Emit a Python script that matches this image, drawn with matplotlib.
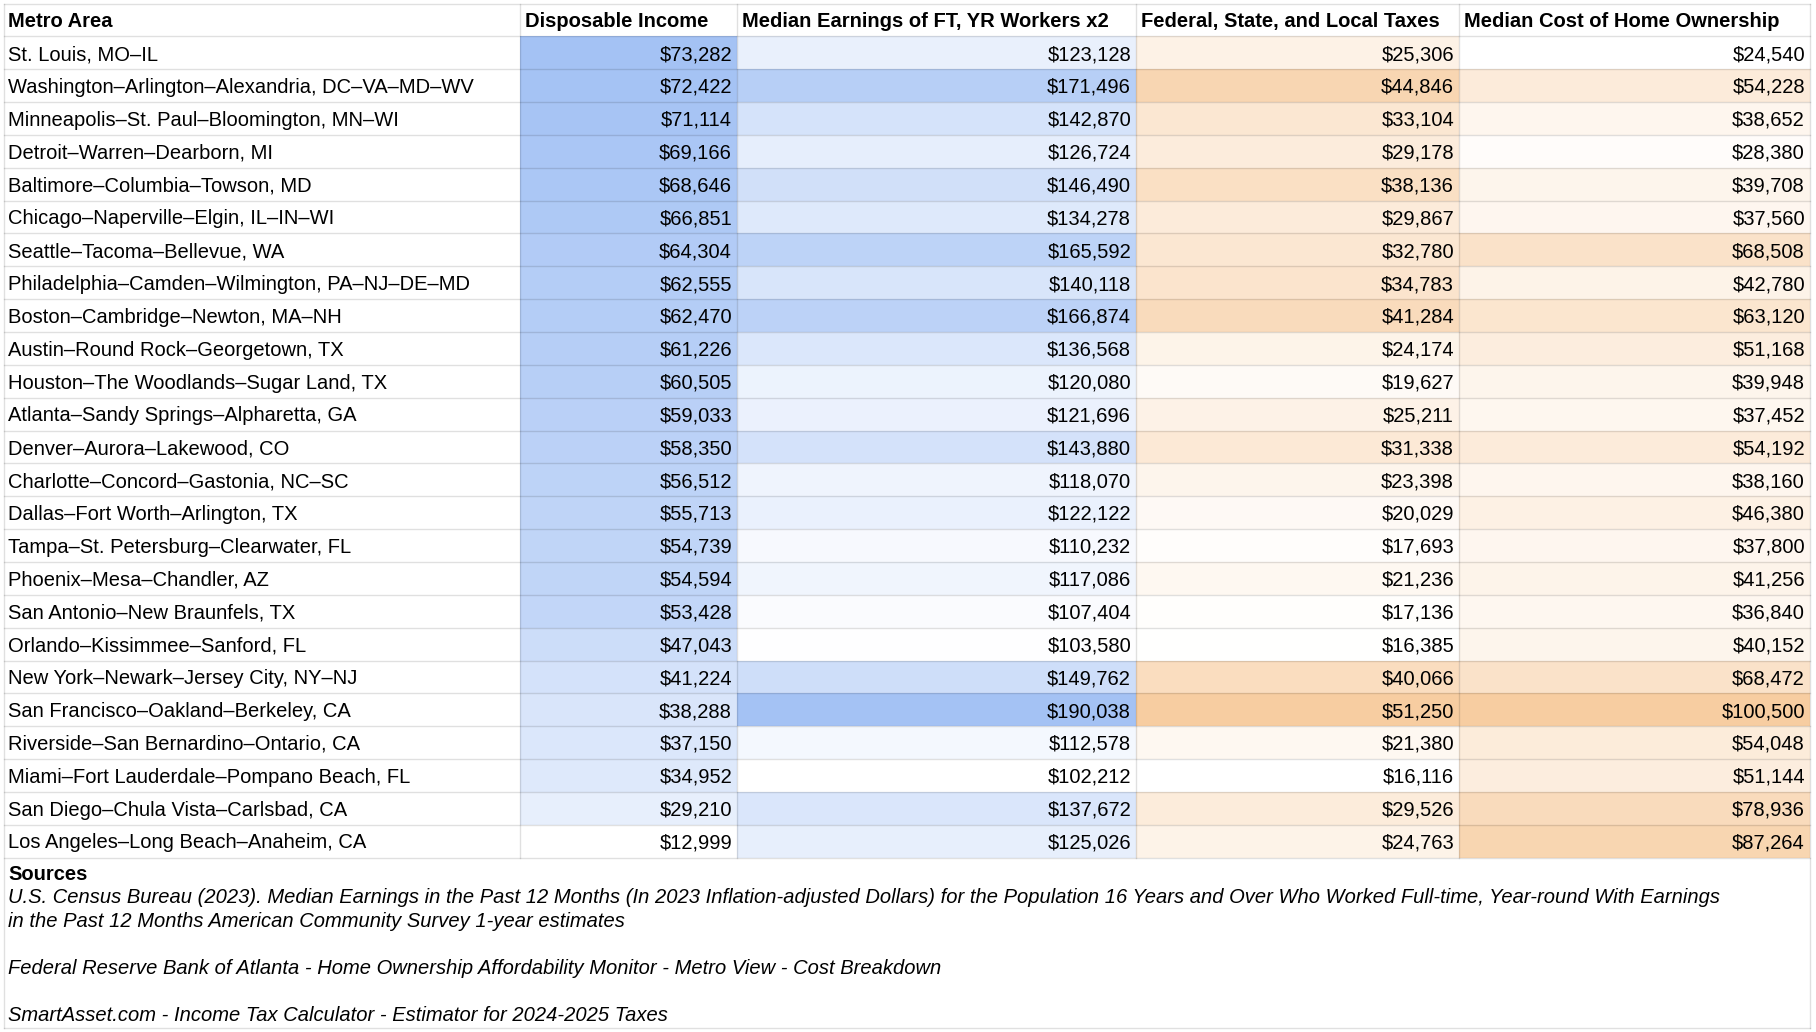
import numpy as np
import matplotlib
matplotlib.use("Agg")
import matplotlib.pyplot as plt
from matplotlib.patches import Rectangle
from matplotlib.colors import to_rgb

plt.rcParams["font.family"] = ["Liberation Sans", "DejaVu Sans"]

# Data
metros = [
    "St. Louis, MO\u2013IL",
    "Washington\u2013Arlington\u2013Alexandria, DC\u2013VA\u2013MD\u2013WV",
    "Minneapolis\u2013St. Paul\u2013Bloomington, MN\u2013WI",
    "Detroit\u2013Warren\u2013Dearborn, MI",
    "Baltimore\u2013Columbia\u2013Towson, MD",
    "Chicago\u2013Naperville\u2013Elgin, IL\u2013IN\u2013WI",
    "Seattle\u2013Tacoma\u2013Bellevue, WA",
    "Philadelphia\u2013Camden\u2013Wilmington, PA\u2013NJ\u2013DE\u2013MD",
    "Boston\u2013Cambridge\u2013Newton, MA\u2013NH",
    "Austin\u2013Round Rock\u2013Georgetown, TX",
    "Houston\u2013The Woodlands\u2013Sugar Land, TX",
    "Atlanta\u2013Sandy Springs\u2013Alpharetta, GA",
    "Denver\u2013Aurora\u2013Lakewood, CO",
    "Charlotte\u2013Concord\u2013Gastonia, NC\u2013SC",
    "Dallas\u2013Fort Worth\u2013Arlington, TX",
    "Tampa\u2013St. Petersburg\u2013Clearwater, FL",
    "Phoenix\u2013Mesa\u2013Chandler, AZ",
    "San Antonio\u2013New Braunfels, TX",
    "Orlando\u2013Kissimmee\u2013Sanford, FL",
    "New York\u2013Newark\u2013Jersey City, NY\u2013NJ",
    "San Francisco\u2013Oakland\u2013Berkeley, CA",
    "Riverside\u2013San Bernardino\u2013Ontario, CA",
    "Miami\u2013Fort Lauderdale\u2013Pompano Beach, FL",
    "San Diego\u2013Chula Vista\u2013Carlsbad, CA",
    "Los Angeles\u2013Long Beach\u2013Anaheim, CA",
]
disposable = [73282, 72422, 71114, 69166, 68646, 66851, 64304, 62555, 62470, 61226,
              60505, 59033, 58350, 56512, 55713, 54739, 54594, 53428, 47043, 41224,
              38288, 37150, 34952, 29210, 12999]
earnings = [123128, 171496, 142870, 126724, 146490, 134278, 165592, 140118, 166874, 136568,
            120080, 121696, 143880, 118070, 122122, 110232, 117086, 107404, 103580, 149762,
            190038, 112578, 102212, 137672, 125026]
taxes = [25306, 44846, 33104, 29178, 38136, 29867, 32780, 34783, 41284, 24174,
         19627, 25211, 31338, 23398, 20029, 17693, 21236, 17136, 16385, 40066,
         51250, 21380, 16116, 29526, 24763]
home_cost = [24540, 54228, 38652, 28380, 39708, 37560, 68508, 42780, 63120, 51168,
             39948, 37452, 54192, 38160, 46380, 37800, 41256, 36840, 40152, 68472,
             100500, 54048, 51144, 78936, 87264]

headers = ["Metro Area", "Disposable Income", "Median Earnings of FT, YR Workers x2",
           "Federal, State, and Local Taxes", "Median Cost of Home Ownership"]
sources = [
    "U.S. Census Bureau (2023). Median Earnings in the Past 12 Months (In 2023 Inflation-adjusted Dollars) "
    "for the Population 16 Years and Over Who Worked Full-time, Year-round With Earnings",
    "in the Past 12 Months American Community Survey 1-year estimates",
    "",
    "Federal Reserve Bank of Atlanta - Home Ownership Affordability Monitor - Metro View - Cost Breakdown",
    "",
    "SmartAsset.com - Income Tax Calculator - Estimator for 2024-2025 Taxes",
]

BLUE = "#a4c2f4"
ORANGE = "#f7cda1"
value_cols = [(disposable, BLUE), (earnings, BLUE), (taxes, ORANGE), (home_cost, ORANGE)]

# Layout (pixels)
W, H = 1816, 1032
col_edges = [3.5, 520, 737, 1136, 1459, 1810]
top = 3.5
row_h = 32.85
n_rows = len(metros)
table_bottom = top + row_h * (n_rows + 1)
fs = 14.5
grid_kw = dict(color="black", alpha=0.12, lw=1.0, zorder=3)


def scale_color(v, vals, hi):
    # white at the column minimum, full colour at the maximum
    lo_v, hi_v = min(vals), max(vals)
    t = (v - lo_v) / (hi_v - lo_v)
    c0 = np.array([1.0, 1.0, 1.0])
    c1 = np.array(to_rgb(hi))
    return tuple(c0 + (c1 - c0) * t)


fig = plt.figure(figsize=(W / 100, H / 100), dpi=100)
ax = fig.add_axes([0, 0, 1, 1])
ax.set_xlim(0, W)
ax.set_ylim(H, 0)
ax.axis("off")

# header
for j, h in enumerate(headers):
    ax.text(col_edges[j] + 5, top + row_h / 2 + 1.5, h, ha="left", va="center",
            fontsize=fs, fontweight="bold", zorder=4)

# body
for i, name in enumerate(metros):
    y0 = top + row_h * (i + 1)
    yc = y0 + row_h / 2 + 1.8
    ax.text(col_edges[0] + 5, yc, name, ha="left", va="center", fontsize=fs, zorder=4)
    for j, (vals, hi) in enumerate(value_cols):
        x0, x1 = col_edges[j + 1], col_edges[j + 2]
        ax.add_patch(Rectangle((x0, y0), x1 - x0, row_h,
                               facecolor=scale_color(vals[i], vals, hi), lw=0, zorder=1))
        ax.text(x1 - 5, yc, f"${vals[i]:,}", ha="right", va="center", fontsize=fs, zorder=4)

# grid lines
for k in range(n_rows + 2):
    y = top + row_h * k
    ax.plot([col_edges[0], col_edges[-1]], [y, y], **grid_kw)
for x in col_edges[1:-1]:
    ax.plot([x, x], [top, table_bottom], **grid_kw)

# sources block
src_bottom = 1028
ax.plot([col_edges[0], col_edges[0]], [top, src_bottom], **grid_kw)
ax.plot([col_edges[-1], col_edges[-1]], [top, src_bottom], **grid_kw)
ax.plot([col_edges[0], col_edges[-1]], [src_bottom, src_bottom], **grid_kw)

line_h = 23.5
y_src = table_bottom + 16.5
ax.text(col_edges[0] + 5, y_src, "Sources", ha="left", va="center",
        fontsize=fs, fontweight="bold", zorder=4)
for k, line in enumerate(sources):
    if line:
        ax.text(col_edges[0] + 5, y_src + line_h * (k + 1), line, ha="left", va="center",
                fontsize=fs, fontstyle="italic", zorder=4)

fig.savefig("out.png", dpi=100, facecolor="white")
